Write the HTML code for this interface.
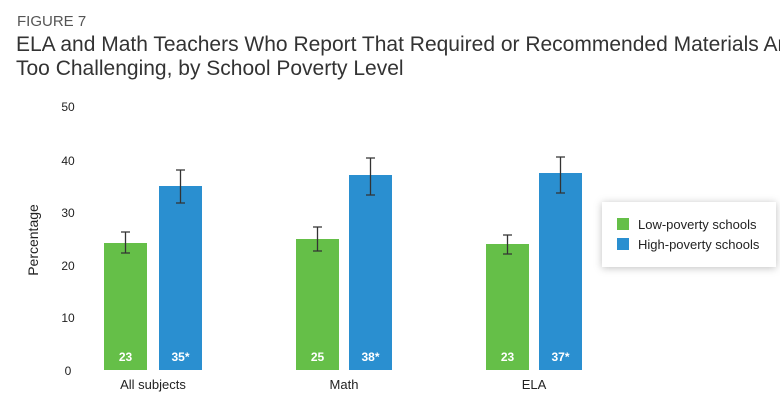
<!DOCTYPE html>
<html><head><style>
body{margin:0;background:#fff;width:780px;height:409px;overflow:hidden;font-family:"Liberation Sans",Arial,sans-serif}
</style></head><body>
<svg width="780" height="409" xmlns="http://www.w3.org/2000/svg" font-family="Liberation Sans, Arial, sans-serif">
<text x="17" y="26" font-size="15" fill="#555">FIGURE 7</text>
<text x="16" y="51" font-size="21" fill="#333">ELA and Math Teachers Who Report That Required or Recommended Materials Are</text>
<text x="16" y="75" font-size="21" fill="#333">Too Challenging, by School Poverty Level</text>
<g font-size="12" fill="#222" text-anchor="middle">
<text x="68" y="111">50</text><text x="68" y="165">40</text><text x="68" y="217">30</text>
<text x="68" y="270">20</text><text x="68" y="322">10</text><text x="68" y="375">0</text>
</g>
<text transform="translate(38,240) rotate(-90)" font-size="14" fill="#222" text-anchor="middle">Percentage</text>
<g fill="#65bf48"><rect x="104" y="243" width="43" height="127"/><rect x="296" y="239" width="43" height="131"/><rect x="486" y="244" width="43" height="126"/></g>
<g fill="#2a8fd0"><rect x="159" y="186" width="43" height="184"/><rect x="349" y="175" width="43" height="195"/><rect x="539" y="173" width="43" height="197"/></g>
<g stroke="#333" stroke-width="1.3" fill="none">
<path d="M125.5 232V253M121 232h9M121 253h9"/>
<path d="M180.5 170V203M176 170h9M176 203h9"/>
<path d="M317.5 227V251M313 227h9M313 251h9"/>
<path d="M370.5 158V195M366 158h9M366 195h9"/>
<path d="M507.5 235V254M503 235h9M503 254h9"/>
<path d="M560.5 157V193M556 157h9M556 193h9"/>
</g>
<g font-size="12" fill="#fff" font-weight="bold" text-anchor="middle">
<text x="125.5" y="361">23</text><text x="180.5" y="361">35*</text>
<text x="317.5" y="361">25</text><text x="370.5" y="361">38*</text>
<text x="507.5" y="361">23</text><text x="560.5" y="361">37*</text>
</g>
<g font-size="13" fill="#222" text-anchor="middle">
<text x="153" y="389">All subjects</text><text x="344" y="389">Math</text><text x="534" y="389">ELA</text>
</g>
<rect x="602" y="202" width="174" height="65" fill="#fff" style="filter:drop-shadow(0 1px 4px rgba(0,0,0,0.25))"/>
<rect x="617" y="218" width="12" height="12" fill="#65bf48"/>
<rect x="617" y="238" width="12" height="12" fill="#2a8fd0"/>
<text x="638" y="229" font-size="13" fill="#222">Low-poverty schools</text>
<text x="638" y="249" font-size="13" fill="#222">High-poverty schools</text>
</svg>
</body></html>
